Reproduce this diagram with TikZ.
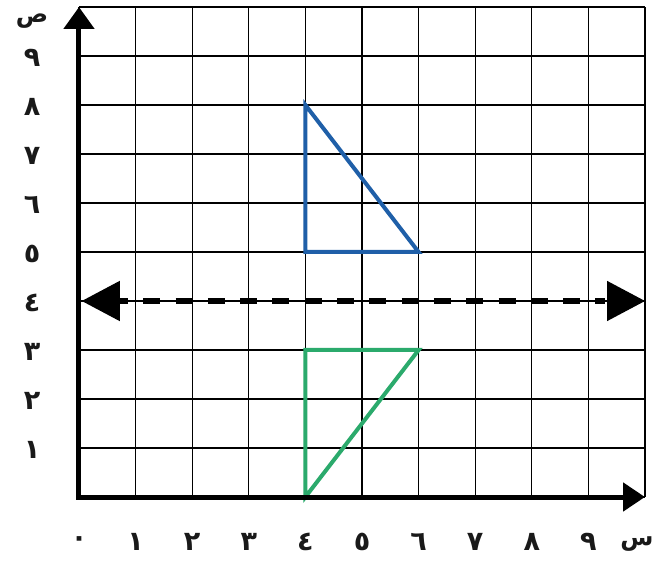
\documentclass[tikz,border=0pt]{standalone}
\usepackage{fontspec}
\usetikzlibrary{arrows.meta}
\TeXXeTstate=1
\newfontfamily\arabicfont[Script=Arabic]{DejaVu Sans}
\definecolor{triblue}{HTML}{1F5FA8}
\definecolor{trigreen}{HTML}{2BAA6C}
\begin{document}
\begin{tikzpicture}[x=56.6pt,y=49pt,
  lbl/.style={font=\arabicfont\bfseries\fontsize{27}{27}\selectfont, text=black!90, inner sep=0pt},
  axlbl/.style={font=\arabicfont\bfseries\fontsize{24}{24}\selectfont, text=black!90, inner sep=0pt},
  gridline/.style={line width=1.3pt, black},
  axisline/.style={line width=5pt, black},
  tri/.style={line width=4pt, line join=miter}]
\useasboundingbox (-79pt,-66pt) rectangle (580pt,497pt);
% grid
\draw[gridline, step={(1,1)}] (0,0) grid (10,10);
% triangles
\draw[tri, triblue] (4,8) -- (4,5) -- (6,5) -- cycle;
\draw[tri, trigreen] (4,3) -- (6,3) -- (4,0) -- cycle;
% axes
\draw[axisline, line cap=rect, -{Triangle[length=22pt,width=30pt]}] (0,0) -- (0,10);
\draw[axisline, line cap=rect, -{Triangle[length=22pt,width=28pt]}] (0,0) -- (10,0);
% dashed line of reflection
\coordinate (dl) at (0.05,4);
\coordinate (dr) at (10,4);
\coordinate (dlb) at (0.724,4);
\coordinate (drb) at (9.293,4);
\draw[line width=1.5pt, {Triangle[length=38pt,width=40pt]}-{Triangle[length=38pt,width=40pt]}] (dl) -- (dr);
\draw[line width=5.5pt, dash pattern=on 17pt off 15.3pt, dash phase=9pt] (dlb) -- (drb);
% labels
\foreach \n/\d in {1/١,2/٢,3/٣,4/٤,5/٥,6/٦,7/٧,8/٨,9/٩}{
  \node[lbl] (y\n) at ([xshift=-47pt,yshift=-2pt]0,\n) {\d};
}
\foreach \n/\d in {0/٠,1/١,2/٢,3/٣,4/٤,5/٥,6/٦,7/٧,8/٨,9/٩}{
  \node[lbl] (x\n) at ([yshift=-45pt]\n,0) {\d};
}
\node[axlbl] (ylab) at (-47pt,476pt) {\beginR ص\endR};
\node[axlbl] (xlab) at (558pt,-47pt) {\beginR س\endR};
\end{tikzpicture}
\end{document}
